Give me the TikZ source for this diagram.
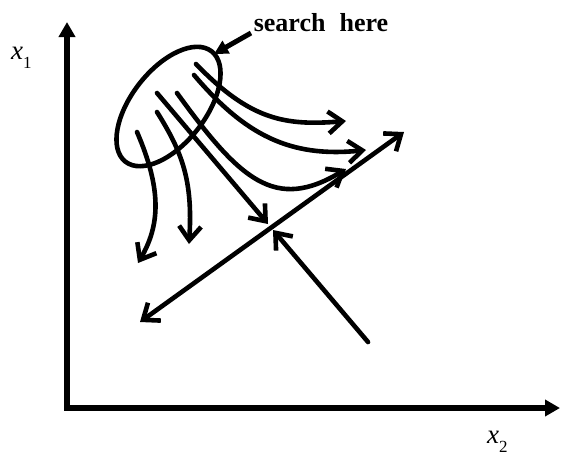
\documentclass[tikz,border=0pt]{standalone}
\usepackage{fontspec}
\setmainfont{Liberation Serif}
\usetikzlibrary{arrows.meta,shapes.geometric}
\begin{document}
\begin{tikzpicture}[x=1pt,y=-1pt,
  curve/.style={line width=4.6pt, line cap=round, line join=round, -{Straight Barb[length=14pt,width=22pt]}},
  dcurve/.style={curve, {Straight Barb[length=14pt,width=22pt]}-{Straight Barb[length=14pt,width=22pt]}},
  axis/.style={line width=6pt, -{Triangle[length=15pt,width=16pt]}},
  pointer/.style={line width=5pt, -{Triangle[length=14pt,width=14pt]}},
  axlab/.style={font=\fontsize{27}{28}\selectfont\itshape, inner sep=0, anchor=base west},
  callout/.style={font=\fontsize{26}{28}\selectfont\bfseries, inner sep=0, anchor=base}]
\useasboundingbox (0,0) rectangle (561,456);
% axes
\coordinate (o) at (67,408);
\coordinate (ytop) at (67,22);
\coordinate (xend) at (560,408);
\coordinate (o2) at (64,408);
\draw[axis] (o) -- (ytop);
\draw[axis] (o2) -- (xend);
\node[axlab] (x1) at (11,59) {x\raisebox{-9pt}{\fontsize{17}{17}\selectfont\upshape 1}};
\node[axlab] (x2) at (487,443) {x\raisebox{-9pt}{\fontsize{17}{17}\selectfont\upshape 2}};
% search region
\node[draw, ellipse, line width=4.6pt, minimum width=140pt, minimum height=74pt, inner sep=0, rotate=52] (region) at (168.5,106.5) {};
\node[callout] (lbl) at (321,31) {search\hspace{14pt}here};
\coordinate (pstart) at (251,33);
\coordinate (ptip) at (214,54);
\draw[pointer] (pstart) -- (ptip);
% curved arrows
\coordinate (s1) at (196,64);   \coordinate (e1) at (346,121);
\coordinate (s2) at (194,75);   \coordinate (e2) at (366,150);
\coordinate (s3) at (177,93);   \coordinate (e3) at (346,169);
\coordinate (s4) at (157,112);  \coordinate (e4) at (189,244);
\coordinate (s5) at (137,132);  \coordinate (e5) at (138,263);
\draw[curve] (s1) .. controls (250,120) and (285,126) .. (e1);
\draw[curve] (s2) .. controls (245,135) and (290,158) .. (e2);
\draw[curve] (s3) .. controls (240,180) and (275,212) .. (e3);
\draw[curve] (s4) .. controls (182,152) and (193,180) .. (e4);
\draw[curve] (s5) .. controls (162,190) and (160,225) .. (e5);
% straight arrows at the crossing
\coordinate (s6) at (157,93);   \coordinate (e6) at (268,224);
\draw[curve] (s6) -- (e6);
\coordinate (dl) at (140,322);  \coordinate (dr) at (404,132);
\draw[dcurve] (dl) -- (dr);
\coordinate (s7) at (368,342);  \coordinate (e7) at (273,230);
\draw[curve] (s7) -- (e7);
\end{tikzpicture}
\end{document}
